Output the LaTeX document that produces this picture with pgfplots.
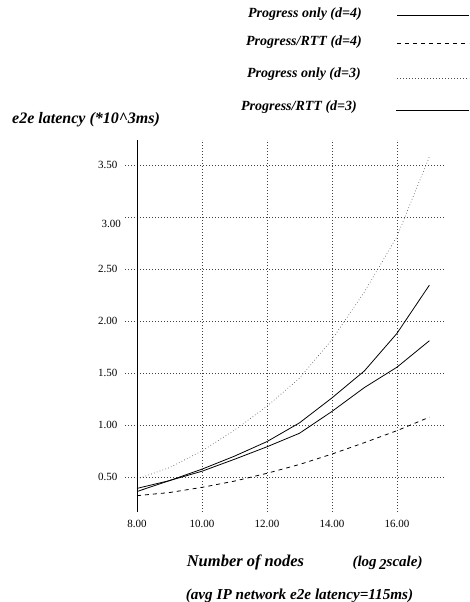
\documentclass[border=0pt]{standalone}
\usepackage{pgfplots}
\pgfplotsset{compat=1.18}
\usetikzlibrary{calc}
\usepackage{fontspec}
\setmainfont{Liberation Serif}
\begin{document}
\begin{tikzpicture}[x=1pt,y=1pt]
\useasboundingbox (-125,-90) rectangle (344,512);
\begin{axis}[
  at={(0pt,0pt)}, anchor=south west,
  scale only axis, width=320pt, height=372pt,
  xmin=7.63, xmax=17.48, ymin=0.163, ymax=3.74,
  axis line style={draw=none},
  tick style={draw=none},
  xtick={8,10,12,14,16},
  xticklabels={8.00,10.00,12.00,14.00,16.00},
  ytick={0.5,1,1.5,2,2.5,3,3.5},
  yticklabels={0.50,1.00,1.50,2.00,2.50,,3.50},
  tick label style={font=\fontsize{11}{13}\selectfont},
  xticklabel style={yshift=-5pt},
  yticklabel style={xshift=-4pt},
  grid=major,
  major grid style={black!75, line width=0.6pt, dash pattern=on 0.7pt off 2.3pt},
  clip=false,
]
\addplot[black, line width=0.8pt] coordinates {
 (8,0.36) (9,0.465) (10,0.575) (11,0.70) (12,0.84) (13,1.02) (14,1.26) (15,1.52) (16,1.88) (17,2.345)};
\addplot[black, dash pattern=on 4pt off 4pt, line width=0.8pt] coordinates {
 (8,0.32) (9,0.35) (10,0.40) (11,0.46) (12,0.535) (13,0.62) (14,0.72) (15,0.83) (16,0.945) (17,1.075)};
\addplot[black!70, line width=0.6pt, dash pattern=on 0.7pt off 2.3pt] coordinates {
 (8,0.48) (9,0.59) (10,0.75) (11,0.95) (12,1.18) (13,1.45) (14,1.82) (15,2.28) (16,2.81) (17,3.58)};
\addplot[black, line width=0.8pt] coordinates {
 (8,0.39) (9,0.465) (10,0.555) (11,0.67) (12,0.79) (13,0.92) (14,1.13) (15,1.36) (16,1.555) (17,1.81)};
\draw[black, line width=1pt] (axis cs:8,0.163) -- (axis cs:8,3.74);
\node[anchor=east, font=\fontsize{11}{13}\selectfont, inner sep=0pt] at ($(axis cs:7.63,3.0)+(-4pt,-7pt)$) {3.00};
\end{axis}
% axis titles (px -> tikz: x-125, 512-y)
\node[anchor=base west, inner sep=0pt, font=\bfseries\itshape\fontsize{16}{19}\selectfont] at (-113,388) {e2e latency (*10\textasciicircum 3ms)};
\node[anchor=base, inner sep=0pt, font=\bfseries\itshape\fontsize{16.5}{19}\selectfont] at (120.5,-54.7) {Number of nodes};
\node[anchor=base, inner sep=0pt, font=\bfseries\itshape\fontsize{15}{18}\selectfont] at (262.5,-54.7) {(log\,\raisebox{-3pt}{2}scale)};
\node[anchor=base, inner sep=0pt, font=\bfseries\itshape\fontsize{15.2}{18}\selectfont] at (174.5,-87) {(avg IP network e2e latency=115ms)};
% legend
\begin{scope}[font=\bfseries\itshape\fontsize{14}{17}\selectfont]
\node[anchor=base east, inner sep=0pt] at (237,494.7) {Progress only (d=4)};
\node[anchor=base east, inner sep=0pt] at (237,466.3) {Progress/RTT (d=4)};
\node[anchor=base east, inner sep=0pt] at (236,434.7) {Progress only (d=3)};
\node[anchor=base east, inner sep=0pt] at (232,401.3) {Progress/RTT (d=3)};
\draw[black, line width=0.8pt] (272,497) -- (344,497);
\draw[black, line width=0.8pt, dash pattern=on 4pt off 4pt] (272,469) -- (344,469);
\draw[black!70, line width=0.6pt, dash pattern=on 0.7pt off 2.3pt] (272,433.7) -- (344,433.7);
\draw[black, line width=0.8pt] (271,401.3) -- (344,401.3);
\end{scope}
\end{tikzpicture}
\end{document}
